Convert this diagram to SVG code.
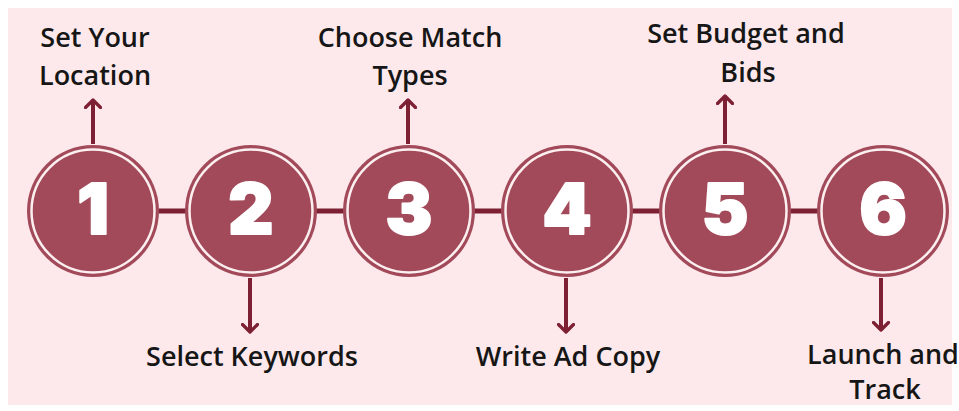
<svg xmlns="http://www.w3.org/2000/svg" width="959" height="411" viewBox="0 0 959 411">
  <defs>
    <marker id="head" viewBox="0 0 12 12" refX="6" refY="6" markerWidth="4.5" markerHeight="4.5" orient="auto" markerUnits="strokeWidth">
      <path d="M1,1 L6,6 L1,11" fill="none" stroke="#7d2034" stroke-width="2.2" stroke-linecap="round" stroke-linejoin="round"/>
    </marker>
  </defs>
  <style>
    .bg { fill: #fde9eb; }
    .link { stroke: #7d2034; stroke-width: 5; }
    .arrow { stroke: #7d2034; stroke-width: 4; fill: none; marker-end: url(#head); }
    .disc { fill: #a34a5a; }
    .rim { fill: none; stroke: #fbeff0; stroke-width: 2.5; }
    .num { font-family: Inter, "DejaVu Sans", sans-serif; font-weight: 900; font-size: 70px; fill: #ffffff; stroke: #ffffff; stroke-width: 2; stroke-linejoin: round; text-anchor: middle; }
    .label { font-family: "Open Sans", "Noto Sans", sans-serif; font-weight: 600; font-size: 27px; fill: #161616; text-anchor: middle; }
  </style>

  <rect class="bg" x="8" y="8" width="944" height="397"/>

  <!-- connectors: chain between steps and arrows to labels -->
  <g id="connectors">
    <line class="link" x1="155" y1="211" x2="190" y2="211"/>
    <line class="link" x1="313" y1="211" x2="348" y2="211"/>
    <line class="link" x1="471" y1="211" x2="506" y2="211"/>
    <line class="link" x1="629" y1="211" x2="664" y2="211"/>
    <line class="link" x1="787" y1="211" x2="822" y2="211"/>
    <path class="arrow" d="M93,144 V100"/>
    <path class="arrow" d="M250,278 V332"/>
    <path class="arrow" d="M408,144 V100"/>
    <path class="arrow" d="M566,278 V332"/>
    <path class="arrow" d="M725,144 V96"/>
    <path class="arrow" d="M881,278 V330"/>
  </g>

  <g id="step1">
    <circle class="disc" cx="93" cy="211" r="66"/>
    <circle class="rim" cx="93" cy="211" r="61.5"/>
    <text class="num" x="93" y="234">1</text>
    <text class="label" x="95" y="47">Set Your</text>
    <text class="label" x="95" y="85">Location</text>
  </g>

  <g id="step2">
    <circle class="disc" cx="251" cy="211" r="66"/>
    <circle class="rim" cx="251" cy="211" r="61.5"/>
    <text class="num" x="251" y="234">2</text>
    <text class="label" x="252" y="366">Select Keywords</text>
  </g>

  <g id="step3">
    <circle class="disc" cx="409" cy="211" r="66"/>
    <circle class="rim" cx="409" cy="211" r="61.5"/>
    <text class="num" x="409" y="234">3</text>
    <text class="label" x="410" y="47">Choose Match</text>
    <text class="label" x="410" y="85">Types</text>
  </g>

  <g id="step4">
    <circle class="disc" cx="567" cy="211" r="66"/>
    <circle class="rim" cx="567" cy="211" r="61.5"/>
    <text class="num" x="567" y="234">4</text>
    <text class="label" x="568" y="366">Write Ad Copy</text>
  </g>

  <g id="step5">
    <circle class="disc" cx="725" cy="211" r="66"/>
    <circle class="rim" cx="725" cy="211" r="61.5"/>
    <text class="num" x="725" y="234">5</text>
    <text class="label" x="746" y="43">Set Budget and</text>
    <text class="label" x="748" y="82">Bids</text>
  </g>

  <g id="step6">
    <circle class="disc" cx="883" cy="211" r="66"/>
    <circle class="rim" cx="883" cy="211" r="61.5"/>
    <text class="num" x="883" y="234">6</text>
    <text class="label" x="883" y="364">Launch and</text>
    <text class="label" x="885" y="399">Track</text>
  </g>
</svg>
